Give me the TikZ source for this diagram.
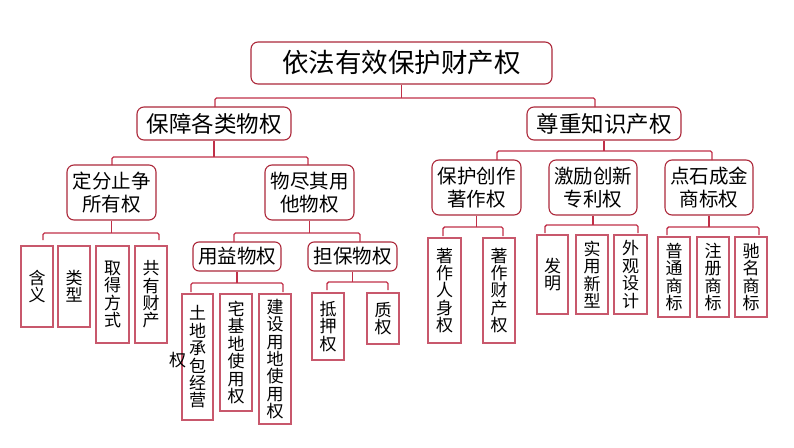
\documentclass[tikz,border=0pt]{standalone}
\usepackage{fontspec}
\usetikzlibrary{calc}
\newfontfamily\cjk{Noto Sans CJK SC}
\definecolor{boxred}{RGB}{172,40,58}
\definecolor{leafred}{RGB}{200,88,108}
\definecolor{connred}{RGB}{192,48,72}
\tikzset{
  rbox/.style={draw=boxred, line width=1.1pt, rounded corners=7pt, fill=white, inner sep=0pt, align=center},
  leaf/.style={draw=leafred, line width=1.1pt, fill=white, inner sep=0pt, align=center,
    font=\cjk\fontsize{17}{17.4}\selectfont},
  conn/.style={draw=connred, line width=1.4pt, rounded corners=1.5pt},
}
\newcommand{\mybracket}[5]{%
  \draw[conn] (#1.south) -- (#1.south |- 0,#4);
  \coordinate (#1-L) at (#2,#5);
  \coordinate (#1-R) at (#3,#5);
  \draw[conn] (#1-L) -- (#1-L |- 0,#4) -- (#1-R |- 0,#4) -- (#1-R);
}
\begin{document}
\begin{tikzpicture}[x=1pt,y=-1pt]
\useasboundingbox (0,0) rectangle (794,447);
% main boxes
\node[rbox, minimum width=301pt, minimum height=42pt, font=\cjk\fontsize{26.5}{30}\selectfont] (top) at (401.5,63) {依法有效保护财产权};
\node[rbox, minimum width=154pt, minimum height=33pt, font=\cjk\fontsize{22.5}{26}\selectfont] (A) at (214,123.5) {保障各类物权};
\node[rbox, minimum width=154pt, minimum height=33pt, font=\cjk\fontsize{22.5}{26}\selectfont] (B) at (604,123.5) {尊重知识产权};
\tikzset{mid/.style={rbox, minimum width=89pt, minimum height=55pt, font=\cjk\fontsize{19.5}{23}\selectfont}}
\node[mid] (A1) at (111.5,192.5) {定分止争\\所有权};
\node[mid] (A2) at (309.5,192.5) {物尽其用\\他物权};
\node[mid] (B1) at (476.5,187.5) {保护创作\\著作权};
\node[mid, minimum width=88pt] (B2) at (593,187.5) {激励创新\\专利权};
\node[mid, minimum width=88pt] (B3) at (709,187.5) {点石成金\\商标权};
\tikzset{sub/.style={rbox, rounded corners=6pt, minimum width=88pt, minimum height=29pt, font=\cjk\fontsize{19.5}{23}\selectfont}}
\node[sub] (A21) at (237,256.5) {用益物权};
\node[sub, minimum width=89pt] (A22) at (352.5,256.5) {担保物权};
% leaves
\node[leaf, minimum width=32pt, minimum height=81pt] (a1) at (37,286.5) {含\\义};
\node[leaf, minimum width=32pt, minimum height=81pt] (a2) at (74,286.5) {类\\型};
\node[leaf, minimum width=33pt, minimum height=97pt] (a3) at (112.5,294.5) {取\\得\\方\\式};
\node[leaf, minimum width=32pt, minimum height=97pt] (a4) at (151,294.5) {共\\有\\财\\产};
\node[leaf, minimum width=31pt, minimum height=126pt] (u1) at (197.5,357) {土\\地\\承\\包\\经\\营};
\node[font=\cjk\fontsize{17}{17.4}\selectfont, inner sep=0pt] (u1x) at (177.5,360.5) {权};
\node[leaf, minimum width=32pt, minimum height=117pt] (u2) at (236,352.5) {宅\\基\\地\\使\\用\\权};
\node[leaf, minimum width=32pt, minimum height=130pt] (u3) at (275,359) {建\\设\\用\\地\\使\\用\\权};
\node[leaf, minimum width=32pt, minimum height=67pt] (d1) at (328,326.5) {抵\\押\\权};
\node[leaf, minimum width=32pt, minimum height=51pt] (d2) at (383,318.5) {质\\权};
\node[leaf, minimum width=33pt, minimum height=105pt] (b11) at (444.5,290.5) {著\\作\\人\\身\\权};
\node[leaf, minimum width=32pt, minimum height=105pt] (b12) at (499,290.5) {著\\作\\财\\产\\权};
\node[leaf, minimum width=31pt, minimum height=79pt] (b21) at (552.5,274.5) {发\\明};
\node[leaf, minimum width=32pt, minimum height=79pt] (b22) at (592,274.5) {实\\用\\新\\型};
\node[leaf, minimum width=33pt, minimum height=79pt] (b23) at (630.5,274.5) {外\\观\\设\\计};
\node[leaf, minimum width=32pt, minimum height=80pt] (b31) at (674,277) {普\\通\\商\\标};
\node[leaf, minimum width=32pt, minimum height=80pt] (b32) at (713,277) {注\\册\\商\\标};
\node[leaf, minimum width=32pt, minimum height=80pt] (b33) at (751,277) {驰\\名\\商\\标};
% connectors
\mybracket{top}{215}{595}{98}{107}
\mybracket{A}{112}{308}{157}{165}
\mybracket{B}{497}{712}{151}{160}
\mybracket{A1}{43}{159}{233}{240}
\mybracket{A2}{234}{360}{233}{242}
\mybracket{A21}{191}{283}{283}{292}
\mybracket{A22}{327}{388}{282}{290}
\mybracket{B1}{443}{503}{227}{236}
\mybracket{B2}{545}{638}{225}{233}
\mybracket{B3}{667}{759}{227}{235}
\end{tikzpicture}
\end{document}
